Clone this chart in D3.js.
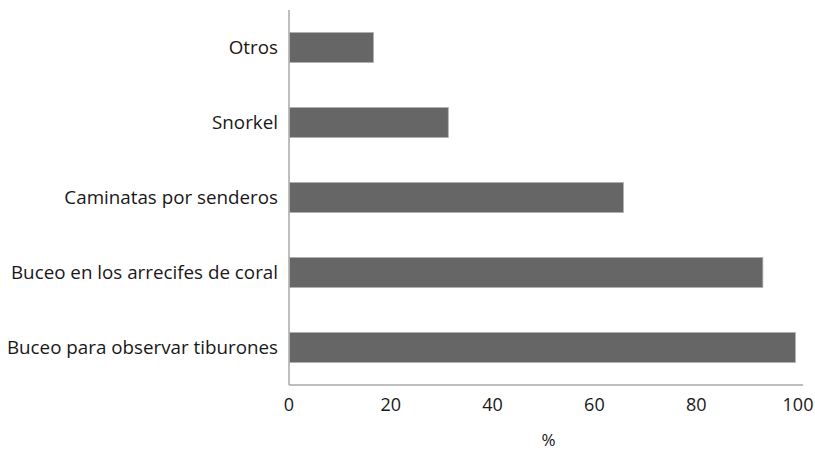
<!DOCTYPE html>
<html><head><meta charset="utf-8">
<script src="https://cdn.jsdelivr.net/npm/d3@7"></script>
<style>body{margin:0;background:#fff}svg{display:block}text{font-family:"Open Sans",sans-serif;fill:#1a1718}</style>
</head><body>
<svg id="c" width="815" height="452"></svg>
<script>
const categories = ["Otros","Snorkel","Caminatas por senderos","Buceo en los arrecifes de coral","Buceo para observar tiburones"];
const values = [16.5, 31.2, 65.6, 93, 99.4];
const xTicks = [0,20,40,60,80,100];
const xLabel = "%";

const svg = d3.select("#c");
const x = d3.scaleLinear().domain([0,100]).range([289,798]);
const y = d3.scaleBand().domain(categories).range([10,385]).paddingInner(0.6).paddingOuter(0.3);

svg.selectAll("rect.bar").data(categories).join("rect")
  .attr("class","bar")
  .attr("x", x(0)+0.5)
  .attr("y", d=>y(d))
  .attr("width", (d,i)=>x(values[i])-x(0))
  .attr("height", y.bandwidth())
  .attr("fill","#666667")
  .attr("stroke","#b0b0b0").attr("stroke-width",0.8);

// axes lines
svg.append("line").attr("x1",x(0)).attr("x2",x(0)).attr("y1",y.range()[0]).attr("y2",y.range()[1])
  .attr("stroke","#a8a8a8").attr("stroke-width",1.5);
svg.append("line").attr("x1",x(0)).attr("x2",x(101)).attr("y1",y.range()[1]).attr("y2",y.range()[1])
  .attr("stroke","#a8a8a8").attr("stroke-width",1.5);

svg.selectAll("text.yl").data(categories).join("text")
  .attr("class","yl")
  .attr("x", x(0)-11)
  .attr("y", d=>y(d)+y.bandwidth()/2)
  .attr("dy","0.35em")
  .attr("text-anchor","end")
  .attr("font-size",18.8)
  .text(d=>d);

svg.selectAll("text.xl").data(xTicks).join("text")
  .attr("class","xl")
  .attr("x", d=>x(d))
  .attr("y", 405)
  .attr("dy","0.35em")
  .attr("text-anchor","middle")
  .attr("font-size",18)
  .text(d=>d);

svg.append("text").attr("x",x(51)).attr("y",440).attr("dy","0.35em")
  .attr("text-anchor","middle").attr("font-size",17).text(xLabel);
</script>
</body></html>
